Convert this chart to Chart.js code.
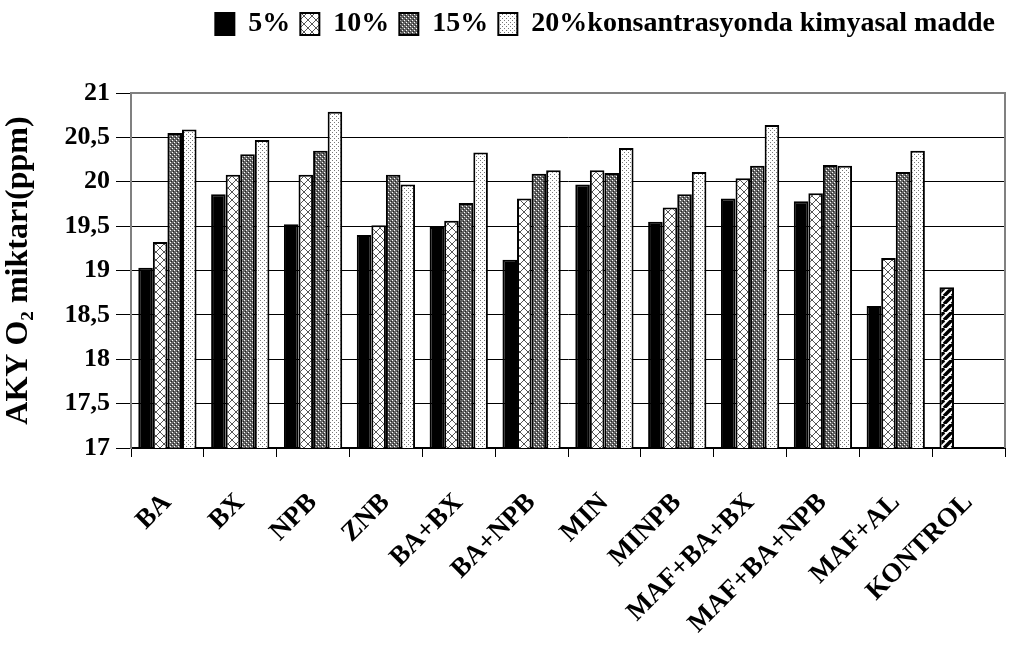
<!DOCTYPE html>
<html>
<head>
<meta charset="utf-8">
<script src="https://cdn.jsdelivr.net/npm/chart.js@4"></script>
<style>
  html, body { margin: 0; padding: 0; background: #fff; }
</style>
</head>
<body>
<canvas id="chart" width="1017" height="655"></canvas>
<script>
// categories and values
const categories = ['BA', 'BX', 'NPB', 'ZNB', 'BA+BX', 'BA+NPB', 'MIN', 'MINPB',
  'MAF+BA+BX', 'MAF+BA+NPB', 'MAF+AL', 'KONTROL'];
const seriesLabels = ['5%', '10%', '15%', '20%konsantrasyonda kimyasal madde'];
const conc5 = [19.03, 19.86, 19.52, 19.40, 19.49, 19.12, 19.97, 19.55, 19.81, 19.78, 18.60, 18.81];
const conc10 = [19.32, 20.08, 20.08, 19.51, 19.56, 19.81, 20.13, 19.71, 20.04, 19.87, 19.14, null];
const conc15 = [20.55, 20.31, 20.35, 20.08, 19.76, 20.09, 20.10, 19.86, 20.18, 20.19, 20.11, null];
const conc20 = [20.59, 20.47, 20.79, 19.97, 20.33, 20.13, 20.38, 20.11, 20.64, 20.18, 20.35, null];
const yMin = 17, yMax = 21, yStep = 0.5;

const FONT = "'Liberation Serif', 'Times New Roman', serif";
const ctx = document.getElementById('chart').getContext('2d');

// small tiles for the black & white fill patterns
function makePattern(size, draw) {
  const c = document.createElement('canvas');
  c.width = size; c.height = size;
  const g = c.getContext('2d');
  draw(g, size);
  return ctx.createPattern(c, 'repeat');
}

const lattice = makePattern(8, (g, s) => {
  g.fillStyle = '#fff'; g.fillRect(0, 0, s, s);
  g.fillStyle = '#555';
  for (let i = 0; i < s; i++) {
    g.fillRect(i, i, 1, 1);
    g.fillRect(s - 1 - i, i, 1, 1);
  }
});
const darkDots = makePattern(4, (g, s) => {
  g.fillStyle = '#666'; g.fillRect(0, 0, s, s);
  g.fillStyle = '#fff';
  g.fillRect(0, 0, 1, 1); g.fillRect(2, 2, 1, 1);
  g.fillStyle = '#222';
  g.fillRect(1, 3, 1, 1); g.fillRect(3, 1, 1, 1);
});
const lightDots = makePattern(4, (g, s) => {
  g.fillStyle = '#fff'; g.fillRect(0, 0, s, s);
  g.fillStyle = '#777';
  g.fillRect(0, 0, 1, 1); g.fillRect(2, 2, 1, 1);
});
const stripes = makePattern(8, (g, s) => {
  g.fillStyle = '#fff'; g.fillRect(0, 0, s, s);
  g.strokeStyle = '#000'; g.lineWidth = 3.5;
  for (const k of [-s, 0, s]) {
    g.beginPath(); g.moveTo(k, s); g.lineTo(k + s, 0); g.stroke();
  }
});

// 5% is black, except the single KONTROL bar which is striped
const fill5 = categories.map(c => c === 'KONTROL' ? stripes : '#000');

// gray frame on top and right of the plot area
const framePlugin = {
  id: 'frame',
  afterDraw(chart) {
    const a = chart.chartArea, c = chart.ctx;
    c.save();
    c.strokeStyle = '#808080';
    c.lineWidth = 2;
    c.beginPath();
    c.moveTo(a.left, a.top);
    c.lineTo(a.right, a.top);
    c.lineTo(a.right, a.bottom);
    c.stroke();
    c.restore();
  }
};

new Chart(ctx, {
  type: 'bar',
  data: {
    labels: categories,
    datasets: [
      { label: seriesLabels[0], data: conc5, backgroundColor: fill5 },
      { label: seriesLabels[1], data: conc10, backgroundColor: lattice },
      { label: seriesLabels[2], data: conc15, backgroundColor: darkDots },
      { label: seriesLabels[3], data: conc20, backgroundColor: lightDots }
    ]
  },
  options: {
    responsive: false,
    animation: false,
    layout: { padding: { left: 0, right: 12, top: 0, bottom: 0 } },
    datasets: {
      bar: {
        borderColor: '#000',
        borderWidth: 2,
        categoryPercentage: 0.8,
        barPercentage: 1.0
      }
    },
    plugins: {
      legend: {
        position: 'top',
        align: 'end',
        weight: 3000,
        labels: {
          color: '#000',
          font: { family: FONT, size: 28, weight: 'bold' },
          boxWidth: 19,
          boxHeight: 22,
          padding: 10
        }
      },
      // empty title, used only as space between legend and plot
      title: {
        display: true,
        text: '',
        font: { size: 10 },
        padding: { top: 0, bottom: 33 }
      },
      tooltip: { enabled: false }
    },
    scales: {
      x: {
        grid: {
          display: true,
          offset: true,
          drawOnChartArea: false,
          drawTicks: true,
          tickLength: 9,
          color: '#000'
        },
        border: { display: true, color: '#000', width: 2 },
        ticks: {
          color: '#000',
          font: { family: FONT, size: 27, weight: 'bold' },
          minRotation: 45,
          maxRotation: 45,
          autoSkip: false,
          padding: 30
        },
        afterFit(scale) {
          scale.height = 207;
          scale.paddingLeft = 0;
          scale.paddingRight = 0;
        }
      },
      y: {
        min: yMin,
        max: yMax,
        grid: {
          color: c => (c.tick && c.tick.value === yMax) ? '#808080' : '#000',
          tickColor: '#000',
          tickLength: 15,
          lineWidth: 1
        },
        border: { display: true, color: '#808080', width: 2 },
        ticks: {
          stepSize: yStep,
          color: '#000',
          padding: 6,
          font: { family: FONT, size: 26, weight: 'bold' },
          callback: v => String(v).replace('.', ',')
        },
        title: {
          display: true,
          text: 'AKY O\u2082 miktarı(ppm)',
          color: '#000',
          font: { family: FONT, size: 32, weight: 'bold' },
          padding: { top: 0, bottom: 0 }
        },
        afterFit(scale) { scale.width = 131; }
      }
    }
  },
  plugins: [framePlugin]
});
</script>
</body>
</html>
